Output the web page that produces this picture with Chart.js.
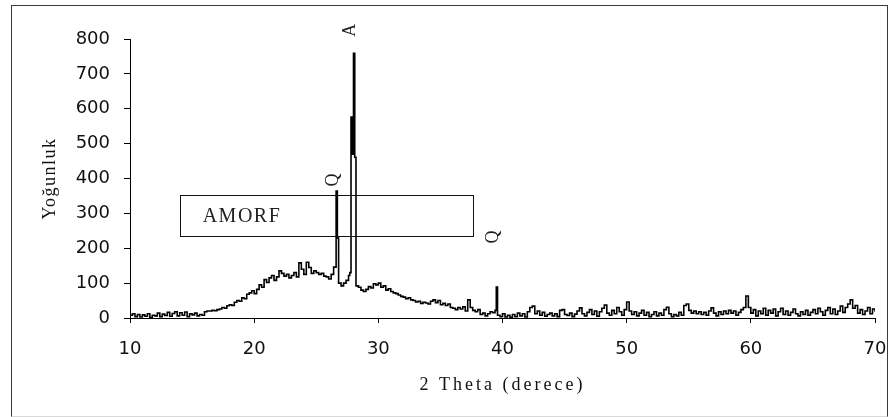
<!DOCTYPE html>
<html>
<head>
<meta charset="utf-8">
<script src="https://cdn.jsdelivr.net/npm/chart.js@4/dist/chart.umd.min.js"></script>
<style>
  html, body { margin: 0; padding: 0; background: #fff; }
  #wrap { position: relative; width: 893px; height: 417px; }
  #frame {
    position: absolute; left: 11px; top: 5px; width: 875px; height: 410px;
    border: 1px solid #3a3a3a; border-bottom-color: #d8d8d8;
  }
  canvas { position: absolute; left: 0; top: 0; }
</style>
</head>
<body>
<div id="wrap">
  <div id="frame"></div>
  <canvas id="xrd" width="893" height="417"></canvas>
</div>
<script>
// 2 theta grid: 10 -> 70 degrees, 0.2 degree step
const thetaStart = 10;
const thetaStep = 0.2;

// intensity on the grid (counts), two degrees per row
const intensity = [
  8, 12, 4, 10, 3, 9, 5, 12, 2, 8,              // 10-12
  6, 14, 4, 11, 7, 16, 5, 13, 18, 6,            // 12-14
  15, 8, 17, 4, 12, 9, 14, 6, 10, 8,            // 14-16
  18, 20, 20, 22, 21, 24, 26, 30, 28, 35,       // 16-18
  38, 36, 45, 50, 48, 58, 55, 68, 72, 78,       // 18-20
  70, 82, 95, 88, 110, 102, 115, 122, 108, 118, // 20-22
  135, 128, 120, 125, 115, 122, 130, 118, 158, 140, // 22-24
  125, 160, 145, 128, 135, 130, 125, 128, 120, 118, // 24-26
  112, 125, 146, 364, 100, 92, 100, 108, 122, 576,  // 26-28
  759, 92, 88, 80, 76, 82, 90, 86, 98, 95,      // 28-30
  100, 88, 92, 80, 84, 76, 72, 70, 66, 62,      // 30-32
  60, 55, 58, 52, 50, 46, 48, 42, 45, 43,       // 32-34
  40, 48, 52, 44, 50, 38, 42, 36, 40, 30,       // 34-36
  28, 24, 30, 26, 32, 20, 52, 30, 22, 18,       // 36-38
  24, 10, 14, 6, 12, 18, 15, 22, 8, 4,          // 38-40
  12, 3, 8, 2, 10, 4, 14, 6, 12, 3,             // 40-42
  18, 30, 34, 12, 20, 8, 16, 5, 10, 14,         // 42-44
  6, 12, 4, 22, 24, 10, 7, 14, 4, 11,           // 44-46
  20, 29, 12, 6, 16, 24, 10, 20, 5, 18,         // 46-48
  28, 37, 14, 8, 22, 12, 30, 18, 8, 24,         // 48-50
  46, 20, 10, 18, 6, 14, 22, 8, 16, 4,          // 50-52
  10, 18, 6, 14, 8, 24, 31, 12, 4, 10,          // 52-54
  6, 16, 8, 36, 40, 22, 14, 20, 12, 18,         // 54-56
  10, 16, 8, 20, 29, 14, 6, 18, 10, 20,         // 56-58
  12, 22, 14, 20, 8, 16, 24, 30, 63, 30,        // 58-60
  14, 24, 6, 20, 12, 28, 8, 22, 14, 26,         // 60-62
  6, 18, 28, 10, 20, 8, 16, 26, 12, 6,          // 62-64
  18, 10, 22, 8, 16, 24, 12, 28, 18, 8,         // 64-66
  22, 30, 12, 26, 10, 20, 34, 16, 30, 40,       // 66-68
  52, 28, 36, 14, 24, 10, 20, 30, 12, 26,       // 68-70
  18,
];

// extra readings around the sharp reflections
const peakTheta = [26.7, 27.7, 27.9, 28.1, 39.5];
const peakIntensity = [229, 130, 470, 461, 89];

// phase labels: Q = quartz, A = anorthite
const phaseLabels = ["Q", "A", "Q"];
const phaseTheta = [26.6, 28.0, 39.5];
const phaseIntensity = [364, 759, 89];
const phaseGap = [11, 23, 50];

// amorphous hump marker
const amorfText = "AMORF";
const amorfRange = { thetaFrom: 14, thetaTo: 37.6, low: 235, high: 352 };

const xTicks = [10, 20, 30, 40, 50, 60, 70];
const yTicks = [0, 100, 200, 300, 400, 500, 600, 700, 800];
const xTitle = "2 Theta (derece)";
const yTitle = "Yoğunluk";

const points = intensity
  .map((v, i) => ({ x: +(thetaStart + i * thetaStep).toFixed(1), y: v }))
  .concat(peakTheta.map((t, i) => ({ x: t, y: peakIntensity[i] })))
  .sort((a, b) => a.x - b.x);

const ink = "#111";
const serif = '"Liberation Serif", "Times New Roman", serif';

const overlay = {
  id: "overlay",
  afterDatasetsDraw(chart) {
    const { ctx, chartArea, scales } = chart;
    const { x, y } = scales;
    ctx.save();

    // AMORF frame
    const l = x.getPixelForValue(amorfRange.thetaFrom);
    const r = x.getPixelForValue(amorfRange.thetaTo);
    const t = y.getPixelForValue(amorfRange.high);
    const b = y.getPixelForValue(amorfRange.low);
    ctx.strokeStyle = "#111";
    ctx.lineWidth = 1;
    ctx.strokeRect(Math.round(l) + 0.5, Math.round(t) + 0.5, Math.round(r - l), Math.round(b - t));
    ctx.fillStyle = "#222";
    ctx.font = "20px " + serif;
    ctx.letterSpacing = "1.5px";
    ctx.textAlign = "left";
    ctx.textBaseline = "middle";
    ctx.fillText(amorfText, l + 23, (t + b) / 2 + 1);

    // phase labels, turned on their side
    ctx.font = "18px " + serif;
    ctx.letterSpacing = "0px";
    ctx.textAlign = "center";
    phaseLabels.forEach((lab, i) => {
      const px = x.getPixelForValue(phaseTheta[i]);
      const py = y.getPixelForValue(phaseIntensity[i]);
      ctx.save();
      ctx.translate(px - 3, py - phaseGap[i]);
      ctx.rotate(-Math.PI / 2);
      ctx.fillText(lab, 0, 0);
      ctx.restore();
    });

    // axis titles
    ctx.fillStyle = ink;
    ctx.font = "18px " + serif;
    ctx.letterSpacing = "3px";
    ctx.fillText(xTitle, (chartArea.left + chartArea.right) / 2, chartArea.bottom + 67);
    ctx.letterSpacing = "1.5px";
    ctx.translate(chartArea.left - 80, (chartArea.top + chartArea.bottom) / 2);
    ctx.rotate(-Math.PI / 2);
    ctx.fillText(yTitle, 0, 0);
    ctx.restore();
  },
};

const tickFont = { family: '"DejaVu Sans", Verdana, sans-serif', size: 18 };

new Chart(document.getElementById("xrd").getContext("2d"), {
  type: "line",
  data: {
    datasets: [
      {
        data: points,
        borderColor: "#000",
        borderWidth: 1.6,
        pointRadius: 0,
        stepped: true,
        fill: false,
      },
    ],
  },
  options: {
    responsive: false,
    animation: false,
    layout: { padding: { left: 11, right: 18, top: 39, bottom: 0 } },
    plugins: { legend: { display: false }, tooltip: { enabled: false } },
    scales: {
      x: {
        type: "linear",
        min: 10,
        max: 70,
        afterBuildTicks: (s) => { s.ticks = xTicks.map((v) => ({ value: v })); },
        afterFit: (s) => {
          s.height = 99;
          // label overhang only, without the tick padding
          s.paddingLeft = 0;
          s.paddingRight = 12;
        },
        ticks: { font: tickFont, color: ink, padding: 16, maxRotation: 0 },
        grid: { drawOnChartArea: false, tickLength: 5, color: "#000" },
        border: { color: "#000", width: 1 },
      },
      y: {
        min: 0,
        max: 800,
        afterBuildTicks: (s) => { s.ticks = yTicks.map((v) => ({ value: v })); },
        afterFit: (s) => { s.width = 119; },
        ticks: { font: tickFont, color: ink, padding: 14 },
        grid: { drawOnChartArea: false, tickLength: 6, color: "#000" },
        border: { color: "#000", width: 1 },
      },
    },
  },
  plugins: [overlay],
});
</script>
</body>
</html>
